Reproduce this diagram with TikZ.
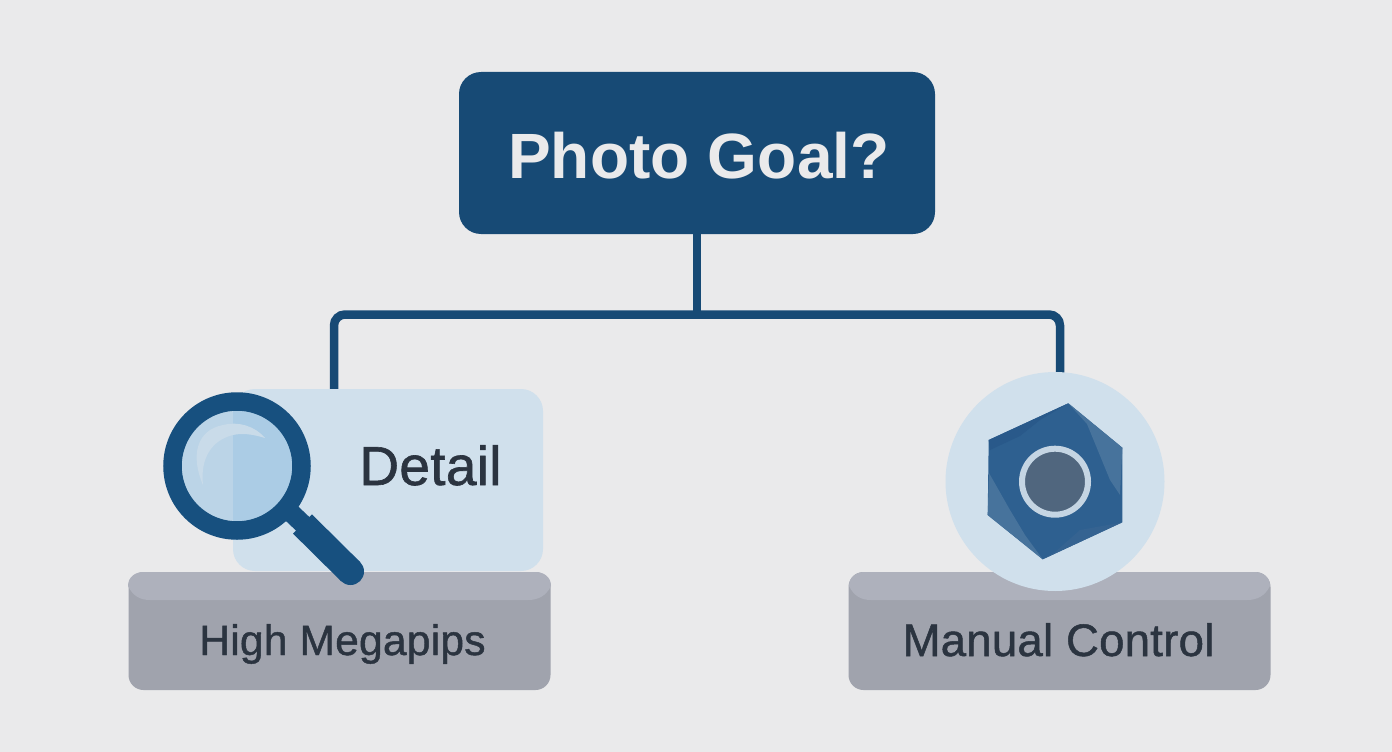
\documentclass[tikz,border=0pt]{standalone}
\usepackage{fontspec}
\setmainfont{Liberation Sans}
\newfontfamily\medfont[LetterSpace=0.2]{Liberation Sans Bold}
\newfontfamily\lightfont[FakeBold=1.1,LetterSpace=0.6]{Liberation Sans}
\definecolor{bgc}{HTML}{EAEAEB}
\definecolor{navy}{HTML}{174A75}
\definecolor{ringblue}{HTML}{17507F}
\definecolor{panelc}{HTML}{D0E0EC}
\definecolor{lensa}{HTML}{BBD4E7}
\definecolor{lensb}{HTML}{ABCCE5}
\definecolor{lenshi}{HTML}{C9DBE9}
\definecolor{grayfront}{HTML}{A0A3AD}
\definecolor{graytop}{HTML}{AEB1BC}
\definecolor{inkc}{HTML}{2B3440}
\definecolor{hexc}{HTML}{2E6090}
\definecolor{hexl}{HTML}{47739C}
\definecolor{hexd}{HTML}{29598A}
\definecolor{hubc}{HTML}{50667E}
\definecolor{hubring}{HTML}{C5D5E3}
\tikzset{
  x=1pt,y=-1pt,
  boxshape/.style={inner sep=0pt,outer sep=0pt,rounded corners=#1},
  grayface/.style={boxshape=15pt,fill=grayfront,minimum width=422pt,minimum height=118pt},
  label/.style={inner sep=0pt,outer sep=0pt,text=inkc,anchor=base},
  link/.style={draw=navy,line width=8.5pt,rounded corners=11pt},
}
\begin{document}
\begin{tikzpicture}
\useasboundingbox (0,0) rectangle (1392,752);
\fill[bgc] (0,0) rectangle (1392,752);

% top node
\node[boxshape=22pt,fill=navy,minimum width=476pt,minimum height=162pt] (goal) at (697,153) {};
\node[inner sep=0pt,text=bgc,anchor=base] (goaltext) at (699,178) {\medfont\fontsize{64}{64}\selectfont Photo Goal?};

% gray bases
\node[grayface] (basel) at (339.5,631) {};
\node[grayface] (baser) at (1059.5,631) {};
\fill[graytop] (128,586) .. controls (128,577) and (135,572) .. (144,572) -- (535,572) .. controls (544,572) and (551,577) .. (551,586) .. controls (546,596) and (538,600) .. (528,600) -- (150,600) .. controls (140,600) and (133,596) .. (128,586) -- cycle;
\fill[graytop] (849,586) .. controls (849,577) and (856,572) .. (865,572) -- (1254,572) .. controls (1263,572) and (1270,577) .. (1270,586) .. controls (1265,596) and (1257,600) .. (1247,600) -- (871,600) .. controls (861,600) and (854,596) .. (849,586) -- cycle;

% connector
\coordinate (junction) at (697,314.5);
\coordinate (leftdrop) at (334,389);
\coordinate (rightdrop) at (1060,374);
\draw[link] (goal.south -| junction) -- (junction);
\draw[link] (leftdrop) |- (junction) -| (rightdrop);

% detail panel
\node[boxshape=22pt,fill=panelc,minimum width=310pt,minimum height=182pt] (panel) at (388,480) {};
\node[label] (detailtext) at (430.5,485) {\lightfont\fontsize{55}{55}\selectfont Detail};

% magnifier
\coordinate (lens) at (237,466);
\begin{scope}
  \clip (lens) circle[radius=56];
  \fill[lensb] (lens) circle[radius=56];
  \fill[lensa] (170,400) rectangle (233,530);
  \fill[lenshi] (203,485) .. controls (190,455) and (197,430) .. (223,425) .. controls (238,421) and (255,426) .. (265,438) .. controls (252,434) and (242,433) .. (233,435) .. controls (212,440) and (200,458) .. (203,485) -- cycle;
\end{scope}
\draw[ringblue,line width=18.5pt] (lens) circle[radius=64.5];
\draw[ringblue,line width=19pt] (285,507) -- (305,526);
\draw[ringblue,line width=27pt] (302.5,524) -- (350.5,571.5);
\fill[ringblue] (350.5,571.5) circle[radius=13.5];

% manual control badge
\node[circle,fill=panelc,minimum size=219pt,inner sep=0pt] (badge) at (1055,481.5) {};
\fill[hexc] (1068.3,403.3) -- (1122.3,447.7) -- (1122.3,522.3) -- (1042.7,559.3) -- (987.7,515) -- (988.7,440) -- cycle;
\fill[hexd] (988.7,440) -- (1068.3,403.3) -- (1040,420) -- (1020,436) -- (990,450) -- cycle;
\fill[hexl] (1068.3,403.3) -- (1122.3,447.7) -- (1120,495) -- (1110,480) -- (1087,424) -- cycle;
\fill[hexl] (987.7,515) -- (989,473) -- (1010,510) -- (1025,535) -- (1042.7,559.3) -- cycle;
\fill[hexd!60!hexl] (1122.3,522.3) -- (1080,530) -- (1055,552) -- (1042.7,559.3) -- cycle;
\node[circle,fill=hubc,draw=hubring,line width=6pt,minimum size=66pt,inner sep=0pt] (hub) at (1055,481.7) {};

% base labels
\node[label] (hightext) at (342.5,655) {\lightfont\fontsize{42.5}{42.5}\selectfont High Megapips};
\node[label] (manualtext) at (1058.5,656) {\lightfont\fontsize{45.5}{45.5}\selectfont Manual Control};
\end{tikzpicture}
\end{document}
